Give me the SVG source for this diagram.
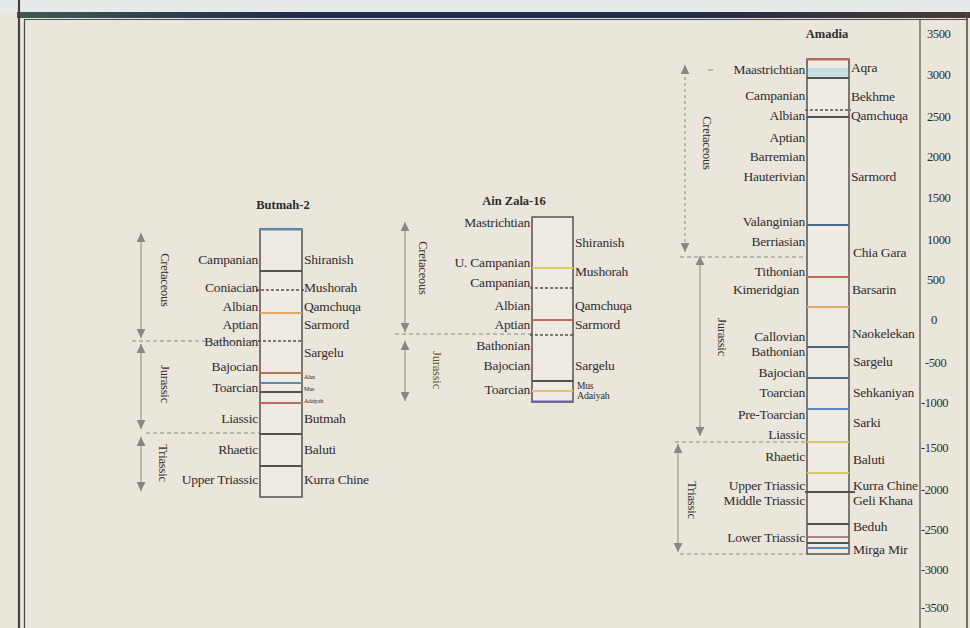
<svg xmlns="http://www.w3.org/2000/svg" width="970" height="628" viewBox="0 0 970 628">
<defs>
<linearGradient id="bar" x1="0" y1="0" x2="1" y2="0">
<stop offset="0" stop-color="#3d5a52"/><stop offset="0.3" stop-color="#1f2a4e"/><stop offset="0.7" stop-color="#22284a"/><stop offset="1" stop-color="#4a3c34"/>
</linearGradient>
<marker id="tri" viewBox="0 0 10 10" refX="10" refY="5" markerUnits="userSpaceOnUse" markerWidth="9" markerHeight="9" orient="auto-start-reverse">
<path d="M0,0 L10,5 L0,10 z" fill="#8a8680"/>
</marker>
</defs>
<style>
text{font-family:"Liberation Serif","Times New Roman",serif;fill:#2e2c2a}
.l{font-size:13.5px;text-anchor:end;letter-spacing:-0.2px}
.rt{font-size:13.5px;letter-spacing:-0.2px}
.tiny{font-size:6px}
.ttl{font-size:12.5px;font-weight:bold;text-anchor:middle}
.era{font-size:12.5px;text-anchor:middle;letter-spacing:-0.2px}
.ax{font-size:12.5px;letter-spacing:-0.4px}
.col{fill:#efebe3;stroke:#55524e;stroke-width:1.5}
.dk{stroke:#55524e;stroke-width:1.8}
.ds{stroke:#55524e;stroke-width:1.4;stroke-dasharray:3 2}
.bl{stroke:#5a88b4;stroke-width:1.8}
.or{stroke:#e2a764;stroke-width:1.8}
.rd{stroke:#bd6a5c;stroke-width:1.8}
.ye{stroke:#d9c865;stroke-width:1.8}
.era-arrow{stroke:#8a8680;stroke-width:1;fill:none;marker-start:url(#tri);marker-end:url(#tri)}
.bnd{stroke:#8a8680;stroke-width:1;stroke-dasharray:4 3}
</style>
<rect x="0" y="0" width="970" height="628" fill="#ebe6dc"/>
<rect x="0" y="0" width="970" height="12" fill="#e6eae8"/>
<rect x="17" y="12" width="953" height="6" fill="url(#bar)"/>
<line x1="24" y1="19.5" x2="968" y2="19.5" stroke="#4a4844" stroke-width="1.2"/>
<line x1="19" y1="0" x2="19" y2="628" stroke="#45423e" stroke-width="2.2"/>
<line x1="24.5" y1="19" x2="24.5" y2="628" stroke="#4a4844" stroke-width="1.2"/>
<line x1="967" y1="12" x2="967" y2="628" stroke="#4a4844" stroke-width="1.5"/>
<line x1="920" y1="19" x2="920" y2="628" stroke="#55524e" stroke-width="1.2"/>

<g id="depth-axis">
<text class="ax" x="927" y="38">3500</text>
<text class="ax" x="927" y="79">3000</text>
<text class="ax" x="927" y="121">2500</text>
<text class="ax" x="927" y="161">2000</text>
<text class="ax" x="927" y="202">1500</text>
<text class="ax" x="927" y="244">1000</text>
<text class="ax" x="927" y="284">500</text>
<text class="ax" x="931" y="324">0</text>
<text class="ax" x="925" y="367">-500</text>
<text class="ax" x="921" y="407">-1000</text>
<text class="ax" x="921" y="452">-1500</text>
<text class="ax" x="921" y="494">-2000</text>
<text class="ax" x="921" y="534">-2500</text>
<text class="ax" x="921" y="574">-3000</text>
<text class="ax" x="921" y="612">-3500</text>
</g>

<g id="connectors">
<line class="era-arrow" x1="141" y1="233" x2="141" y2="338"/>
<line class="era-arrow" x1="141" y1="344" x2="141" y2="429"/>
<line class="era-arrow" x1="141" y1="437" x2="141" y2="491"/>
<line class="bnd" x1="132" y1="341" x2="260" y2="341"/>
<line class="bnd" x1="146" y1="433" x2="260" y2="433"/>
<line class="era-arrow" x1="405" y1="222" x2="405" y2="332"/>
<line class="era-arrow" x1="405" y1="341" x2="405" y2="401"/>
<line class="bnd" x1="395" y1="334" x2="532" y2="334"/>
<line class="era-arrow" x1="685" y1="65" x2="685" y2="252" stroke-dasharray="3 3"/>
<line class="era-arrow" x1="700" y1="256" x2="700" y2="436"/>
<line class="era-arrow" x1="678" y1="444" x2="678" y2="552"/>
<line x1="708" y1="70" x2="713" y2="70" stroke="#8a8680" stroke-width="1"/>
<line class="bnd" x1="680" y1="257" x2="807" y2="257"/>
<line class="bnd" x1="675" y1="442" x2="807" y2="442"/>
<line class="bnd" x1="680" y1="554" x2="807" y2="554"/>
</g>

<g id="butmah-2">
<text class="ttl" x="283" y="209">Butmah-2</text>
<rect class="col" x="260" y="229" width="42" height="268"/>
<line class="bl" x1="260" y1="229.5" x2="302" y2="229.5"/>
<line class="dk" x1="260" y1="271" x2="302" y2="271"/>
<line class="ds" x1="256" y1="290" x2="304" y2="290"/>
<line class="or" x1="260" y1="313" x2="302" y2="313"/>
<line class="ds" x1="258" y1="341" x2="302" y2="341"/>
<line x1="260" y1="373" x2="302" y2="373" stroke="#b87052" stroke-width="1.8"/>
<line class="bl" x1="260" y1="383" x2="302" y2="383"/>
<line class="dk" x1="260" y1="392" x2="302" y2="392"/>
<line class="rd" x1="260" y1="403" x2="302" y2="403"/>
<line class="dk" x1="260" y1="434" x2="302" y2="434"/>
<line class="dk" x1="260" y1="466" x2="302" y2="466"/>
<text class="era" transform="translate(161 280) rotate(90)">Cretaceous</text>
<text class="era" transform="translate(161 384) rotate(90)">Jurassic</text>
<text class="era" transform="translate(159 463) rotate(90)">Triassic</text>
<text class="l" x="258" y="264">Campanian</text>
<text class="l" x="258" y="292">Coniacian</text>
<text class="l" x="258" y="311">Albian</text>
<text class="l" x="258" y="329">Aptian</text>
<text class="l" x="258" y="346">Bathonian</text>
<text class="l" x="258" y="371">Bajocian</text>
<text class="l" x="258" y="392">Toarcian</text>
<text class="l" x="258" y="423">Liassic</text>
<text class="l" x="258" y="454">Rhaetic</text>
<text class="l" x="258" y="484">Upper Triassic</text>
<text class="rt" x="304" y="264">Shiranish</text>
<text class="rt" x="304" y="292">Mushorah</text>
<text class="rt" x="304" y="311">Qamchuqa</text>
<text class="rt" x="304" y="329">Sarmord</text>
<text class="rt" x="304" y="357">Sargelu</text>
<text class="rt tiny" x="304" y="379">Alan</text>
<text class="rt tiny" x="304" y="391">Mus</text>
<text class="rt tiny" x="304" y="403">Adaiyah</text>
<text class="rt" x="304" y="423">Butmah</text>
<text class="rt" x="304" y="454">Baluti</text>
<text class="rt" x="304" y="484">Kurra Chine</text>
</g>

<g id="ain-zala-16">
<text class="ttl" x="514" y="205">Ain Zala-16</text>
<rect class="col" x="532" y="217" width="41" height="185"/>
<line class="ye" x1="532" y1="268" x2="573" y2="268"/>
<line class="ds" x1="530" y1="288" x2="573" y2="288"/>
<line class="rd" x1="532" y1="320" x2="573" y2="320"/>
<line class="ds" x1="530" y1="335" x2="573" y2="335"/>
<line class="dk" x1="532" y1="381" x2="573" y2="381"/>
<line class="ye" x1="532" y1="391" x2="573" y2="391"/>
<line x1="532" y1="401.5" x2="573" y2="401.5" stroke="#6a62a6" stroke-width="1.8"/>
<text class="era" transform="translate(419 268) rotate(90)">Cretaceous</text>
<text class="era" transform="translate(433 370) rotate(90)" style="fill:#5a5a30">Jurassic</text>
<text class="l" x="530" y="227">Mastrichtian</text>
<text class="l" x="530" y="267">U. Campanian</text>
<text class="l" x="530" y="287">Campanian</text>
<text class="l" x="530" y="310">Albian</text>
<text class="l" x="530" y="329">Aptian</text>
<text class="l" x="530" y="350">Bathonian</text>
<text class="l" x="530" y="370">Bajocian</text>
<text class="l" x="530" y="394">Toarcian</text>
<text class="rt" x="575" y="247">Shiranish</text>
<text class="rt" x="575" y="276">Mushorah</text>
<text class="rt" x="575" y="310">Qamchuqa</text>
<text class="rt" x="575" y="329">Sarmord</text>
<text class="rt" x="575" y="370">Sargelu</text>
<text class="rt" x="577" y="389" style="font-size:9.5px">Mus</text>
<text class="rt" x="577" y="399" style="font-size:10px">Adaiyah</text>
</g>

<g id="amadia">
<text class="ttl" x="827" y="38">Amadia</text>
<rect class="col" x="807" y="59" width="42" height="495"/>
<rect x="808" y="68" width="40" height="10" fill="#c6dde2"/>
<line class="rd" x1="807" y1="59.5" x2="849" y2="59.5"/>
<line class="dk" x1="807" y1="78" x2="849" y2="78" stroke-width="2.2"/>
<line class="ds" x1="805" y1="110" x2="851" y2="110"/>
<line class="dk" x1="807" y1="117" x2="849" y2="117"/>
<line x1="807" y1="225" x2="849" y2="225" stroke="#4a6a8a" stroke-width="1.8"/>
<line class="rd" x1="807" y1="277" x2="849" y2="277"/>
<line class="or" x1="807" y1="307" x2="849" y2="307"/>
<line x1="807" y1="347" x2="849" y2="347" stroke="#4a6888" stroke-width="1.8"/>
<line x1="807" y1="378" x2="849" y2="378" stroke="#4a6888" stroke-width="1.8"/>
<line class="bl" x1="807" y1="409" x2="849" y2="409"/>
<line class="ye" x1="807" y1="442" x2="849" y2="442"/>
<line class="ye" x1="807" y1="473" x2="849" y2="473"/>
<line class="dk" x1="805" y1="492" x2="855" y2="492" stroke-width="2"/>
<line class="dk" x1="807" y1="524" x2="849" y2="524"/>
<line x1="807" y1="537" x2="849" y2="537" stroke="#9a6060" stroke-width="1.6"/>
<line class="dk" x1="807" y1="543" x2="849" y2="543"/>
<line class="bl" x1="807" y1="548" x2="849" y2="548"/>
<text class="era" transform="translate(703 143) rotate(90)">Cretaceous</text>
<text class="era" transform="translate(718 337) rotate(90)">Jurassic</text>
<text class="era" transform="translate(688 500) rotate(90)">Triassic</text>
<text class="l" x="805" y="74">Maastrichtian</text>
<text class="l" x="805" y="100">Campanian</text>
<text class="l" x="805" y="120">Albian</text>
<text class="l" x="805" y="142">Aptian</text>
<text class="l" x="805" y="161">Barremian</text>
<text class="l" x="805" y="181">Hauterivian</text>
<text class="l" x="805" y="226">Valanginian</text>
<text class="l" x="805" y="246">Berriasian</text>
<text class="l" x="805" y="276">Tithonian</text>
<text class="l" x="799" y="294">Kimeridgian</text>
<text class="l" x="805" y="341">Callovian</text>
<text class="l" x="805" y="356">Bathonian</text>
<text class="l" x="805" y="377">Bajocian</text>
<text class="l" x="805" y="397">Toarcian</text>
<text class="l" x="805" y="419">Pre-Toarcian</text>
<text class="l" x="805" y="439">Liassic</text>
<text class="l" x="805" y="461">Rhaetic</text>
<text class="l" x="805" y="490">Upper Triassic</text>
<text class="l" x="805" y="505">Middle Triassic</text>
<text class="l" x="805" y="542">Lower Triassic</text>
<text class="rt" x="851" y="72">Aqra</text>
<text class="rt" x="851" y="101">Bekhme</text>
<text class="rt" x="851" y="120">Qamchuqa</text>
<text class="rt" x="851" y="181">Sarmord</text>
<text class="rt" x="853" y="257">Chia Gara</text>
<text class="rt" x="852" y="294">Barsarin</text>
<text class="rt" x="852" y="338">Naokelekan</text>
<text class="rt" x="853" y="366">Sargelu</text>
<text class="rt" x="853" y="397">Sehkaniyan</text>
<text class="rt" x="853" y="427">Sarki</text>
<text class="rt" x="853" y="464">Baluti</text>
<text class="rt" x="853" y="490">Kurra Chine</text>
<text class="rt" x="853" y="505">Geli Khana</text>
<text class="rt" x="853" y="531">Beduh</text>
<text class="rt" x="853" y="554">Mirga Mir</text>
</g>
</svg>
